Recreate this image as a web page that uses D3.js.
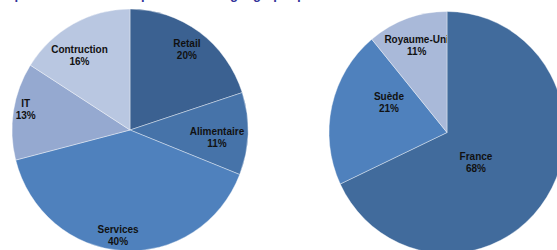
<!DOCTYPE html>
<html>
<head>
<meta charset="utf-8">
<script src="https://cdn.jsdelivr.net/npm/d3@7"></script>
<style>
  body { margin: 0; background: #fff; }
  svg { display: block; font-family: Arial, "Liberation Sans", sans-serif; }
  .lbl { font-size: 10px; font-weight: bold; fill: #111; }
</style>
</head>
<body>
<svg width="557" height="250"></svg>
<script>
var svg = d3.select('svg');

// left pie : sectors
const sectors = ['Retail', 'Alimentaire', 'Services', 'IT', 'Contruction'];
const sectorShares = [20, 11, 40, 13, 16];
const sectorColors = ['#3b6191', '#4673a9', '#4f81bd', '#95a9d0', '#b9c7e1'];

// right pie : countries
const countries = ['France', 'Suède', 'Royaume-Uni'];
const countryShares = [68, 21, 11];
const countryColors = ['#416b9c', '#4f81bd', '#a9b9d9'];

// label placement (fraction of radius, angle nudge in degrees)
const sectorLabelR = [0.82, 0.74, 0.88, 0.9, 0.75];
const sectorLabelShift = [0, 3, 3, 2, -6];
const countryLabelR = [0.35, 0.55, 0.76];
const countryLabelShift = [13, 14, 0];

// title, mostly cut off at top of the picture (only descenders show)
svg.append('text')
    .attr('x', -2).attr('y', -1)
    .attr('fill', '#333399')
    .attr('font-size', 13).attr('font-weight', 'bold')
    .text('Répartition des clients par secteur et géographique');

let rx = 118, ry = 121;

function drawPie(cx, cy, names, values, colors, labR, labShift, id) {
    let pie = d3.pie().sort(null).value(d => d);
    let arcs = pie(values);
    let arc = d3.arc().innerRadius(0).outerRadius(rx);

    let g = svg.append('g')
        .attr('transform', 'translate(' + cx + ',' + cy + ') scale(1,' + (ry / rx) + ')');

    // clip paths so each label stays inside its own slice
    let defs = svg.append('defs');
    arcs.forEach(function(a, i) {
        defs.append('clipPath').attr('id', id + i)
            .append('path')
            .attr('transform', 'translate(' + cx + ',' + cy + ') scale(1,' + (ry / rx) + ')')
            .attr('d', arc(a));
    });

    g.selectAll('path').data(arcs).enter().append('path')
        .attr('d', arc)
        .attr('fill', (d, i) => colors[i])
        .attr('stroke', 'rgba(255,255,255,0.55)')
        .attr('stroke-width', 0.7);

    arcs.forEach(function(a, i) {
        let ang = (a.startAngle + a.endAngle) / 2 + labShift[i] * Math.PI / 180;
        let x = cx + Math.sin(ang) * rx * labR[i];
        let y = cy - Math.cos(ang) * ry * labR[i];
        let t = svg.append('text').attr('class', 'lbl')
            .attr('text-anchor', 'middle')
            .attr('clip-path', 'url(#' + id + i + ')');
        t.append('tspan').attr('x', x).attr('y', y - 2.5).text(names[i]);
        t.append('tspan').attr('x', x).attr('y', y + 9.5).text(values[i] + '%');
    });
}

drawPie(130, 130, sectors, sectorShares, sectorColors, sectorLabelR, sectorLabelShift, 'cs');
drawPie(447, 132.5, countries, countryShares, countryColors, countryLabelR, countryLabelShift, 'cc');
</script>
</body>
</html>
